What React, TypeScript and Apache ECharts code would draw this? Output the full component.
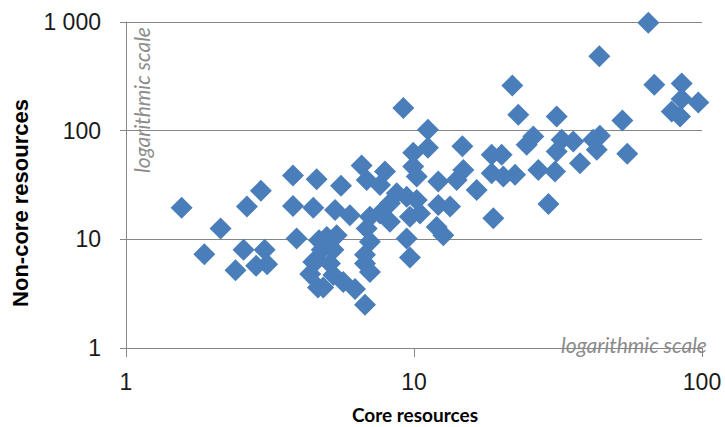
import React, { useEffect, useRef } from "react";
import * as echarts from "echarts";

const coreResources: number[] = [
  1.56, 1.87, 2.13, 2.4, 2.56, 2.63, 2.83, 2.94, 3.03, 3.09,
  3.8, 3.8, 3.91, 4.59, 4.47, 4.68, 4.36, 4.59, 4.64, 4.47,
  5.58, 6.58, 6.85, 7.93, 7.62, 9.94, 11.18, 9.94, 10.22, 12.14,
  5.32, 5.99, 7.03, 7.62, 8.25, 8.71, 9.43, 10.22, 10.49, 9.68,
  8.25, 6.85, 7.03, 9.43, 11.99, 12.64, 4.98, 5.39, 4.78, 5.25,
  6.76, 9.68, 5.11, 6.76, 5.25, 7.03, 4.84, 5.68, 6.24, 6.76,
  11.18, 9.18, 14.72, 14.83, 14.07, 16.51, 12.14, 13.34, 18.85, 29.3,
  18.61, 20.16, 18.61, 20.42, 22.43, 27.02, 30.87, 21.95, 23.02, 31.3,
  25.96, 24.62, 32.57, 35.73, 31.3, 37.71, 41.94, 43.1, 44.0, 65.1,
  68.3, 85.0, 85.0, 97.1, 78.5, 83.9, 52.9, 55.0, 44.2,
];

const nonCoreResources: number[] = [
  19.5, 7.3, 12.6, 5.2, 8.0, 20, 5.7, 28, 8.0, 5.9,
  38.6, 20.3, 10.2, 35.7, 19.5, 9.8, 4.8, 6.4, 3.6, 6.2,
  31.2, 47.7, 35.2, 42, 31.7, 62.5, 69.5, 46.7, 37.8, 34,
  18.6, 16.7, 16.1, 17.3, 21.5, 26.5, 24.7, 23, 17.3, 16.1,
  14.5, 12.6, 9.5, 10.2, 13, 10.9, 10.5, 10.9, 8.0, 8.0,
  7.2, 6.8, 6.0, 6.0, 4.7, 5.0, 3.6, 4.05, 3.5, 2.5,
  102, 162, 71.8, 43.5, 35.2, 28.5, 20.7, 20, 15.6, 21.1,
  59.9, 59.9, 40.6, 37.8, 39.2, 43.5, 42, 260, 140, 135,
  88.4, 74.1, 82.4, 79.5, 64.3, 50.2, 82.4, 66.6, 484, 985,
  265, 271, 196, 182, 150, 135, 124, 61.2, 89.7,
];

const xAxisTitle = "Core resources";
const yAxisTitle = "Non-core resources";
const scaleNote = "logarithmic scale";

const AXIS_GRAY = "#868686";
const MARKER_BLUE = "#4A7EBB";

function formatThousands(v: number): string {
  return String(Math.round(v)).replace(/\B(?=(\d{3})+(?!\d))/g, " ");
}

export default function App() {
  const ref = useRef<HTMLDivElement>(null);

  useEffect(() => {
    if (!ref.current) return;
    const chart = echarts.init(ref.current, undefined, { renderer: "svg" });
    const points = coreResources.map((x, i) => [x, nonCoreResources[i]]);
    chart.setOption({
      animation: false,
      backgroundColor: "#ffffff",
      grid: { left: 126, right: 23, top: 22, bottom: 79 },
      xAxis: {
        type: "log",
        logBase: 10,
        min: 1,
        max: 100,
        axisLine: { show: true, lineStyle: { color: AXIS_GRAY, width: 1 } },
        axisTick: { show: true, inside: false, length: 9, lineStyle: { color: AXIS_GRAY } },
        axisLabel: {
          margin: 22,
          fontFamily: "Liberation Sans, Arial, sans-serif",
          fontSize: 23,
          color: "#1a1a1a",
          formatter: (v: number) => formatThousands(v),
        },
        splitLine: { show: false },
        minorTick: { show: false },
      },
      yAxis: {
        type: "log",
        logBase: 10,
        min: 1,
        max: 1000,
        axisLine: { show: true, lineStyle: { color: AXIS_GRAY, width: 1 } },
        axisTick: { show: true, inside: false, length: 6, lineStyle: { color: AXIS_GRAY } },
        axisLabel: {
          margin: 25,
          fontFamily: "Liberation Sans, Arial, sans-serif",
          fontSize: 23,
          color: "#1a1a1a",
          formatter: (v: number) => formatThousands(v),
        },
        splitLine: { show: true, lineStyle: { color: AXIS_GRAY, width: 1 } },
        minorTick: { show: false },
      },
      graphic: [
        {
          type: "text",
          x: 20,
          y: 203,
          rotation: Math.PI / 2,
          style: {
            text: yAxisTitle,
            fontFamily: "Liberation Sans, Arial, sans-serif",
            fontWeight: "bold",
            fontSize: 22,
            fill: "#000",
            align: "center",
            verticalAlign: "middle",
          },
        },
        {
          type: "text",
          x: 415,
          y: 414,
          style: {
            text: xAxisTitle,
            fontFamily: "Lato, sans-serif",
            fontWeight: "bold",
            fontSize: 19,
            fill: "#000",
            align: "center",
            verticalAlign: "middle",
          },
        },
        {
          type: "text",
          x: 141,
          y: 100,
          rotation: Math.PI / 2,
          style: {
            text: scaleNote,
            fontFamily: "Lato, sans-serif",
            fontStyle: "italic",
            fontSize: 21,
            fill: "#8c8c8c",
            align: "center",
            verticalAlign: "middle",
          },
        },
        {
          type: "text",
          x: 634,
          y: 344,
          style: {
            text: scaleNote,
            fontFamily: "Lato, sans-serif",
            fontStyle: "italic",
            fontSize: 21,
            fill: "#8c8c8c",
            align: "center",
            verticalAlign: "middle",
          },
        },
      ],
      series: [
        {
          type: "scatter",
          data: points,
          symbol: "diamond",
          symbolSize: 22,
          itemStyle: { color: MARKER_BLUE, opacity: 1 },
          emphasis: { disabled: true },
        },
      ],
    });
    return () => chart.dispose();
  }, []);

  return (
    <div
      ref={ref}
      style={{ position: "fixed", left: 0, top: 0, width: 725, height: 427 }}
    />
  );
}
